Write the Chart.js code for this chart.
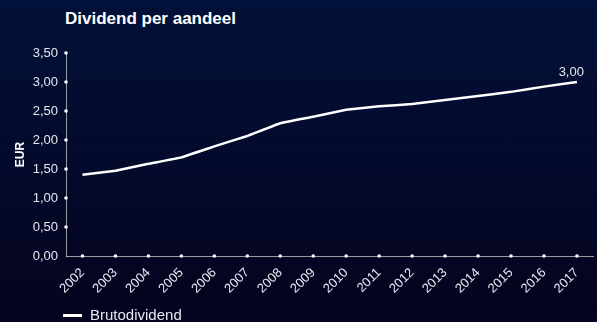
<!DOCTYPE html>
<html>
<head>
<meta charset="utf-8">
<script src="https://cdn.jsdelivr.net/npm/chart.js@4"></script>
<style>
  html, body { margin: 0; padding: 0; }
  body {
    width: 597px; height: 322px; overflow: hidden; position: relative;
    background: linear-gradient(#021139, #05031e);
    font-family: "Liberation Sans", Arial, sans-serif;
  }
  #wrap { position: absolute; left: 0; top: 0; width: 597px; height: 322px; }
  #title {
    position: absolute; left: 65px; top: 9px;
    color: #fff; font-weight: bold; font-size: 17px;
  }
  #legend {
    position: absolute; left: 63px; top: 306px;
    color: #e6e8f0; font-size: 15px; line-height: 18px;
  }
  #legend span.swatch {
    display: inline-block; width: 19px; height: 3px; background: #fff;
    vertical-align: middle; margin-right: 8px; position: relative; top: -1px;
  }
</style>
</head>
<body>
<div id="title">Dividend per aandeel</div>
<div id="wrap"><canvas id="dividend-chart" width="597" height="322"></canvas></div>
<div id="legend"><span class="swatch"></span>Brutodividend</div>
<script>
const years = ['2002','2003','2004','2005','2006','2007','2008','2009','2010','2011','2012','2013','2014','2015','2016','2017'];
const brutoDividend = [1.40,1.47,1.59,1.70,1.89,2.07,2.29,2.40,2.52,2.58,2.62,2.69,2.76,2.83,2.92,3.00];
const yTicks = [0,0.5,1,1.5,2,2.5,3,3.5];

const fmt = v => v.toFixed(2).replace('.', ',');
const fontFamily = '"Liberation Sans", Arial, sans-serif';

// white dots on the dotted axes + value label on the last point
const axisDots = {
    id: 'axisDots',
    afterDraw(chart) {
        const ctx = chart.ctx;
        const x = chart.scales.x, y = chart.scales.y;
        ctx.save();
        ctx.fillStyle = '#ffffff';
        y.ticks.forEach((t, i) => {
            if (t.value === 0) return;
            ctx.beginPath();
            ctx.arc(x.left, y.getPixelForTick(i), 1.8, 0, Math.PI * 2);
            ctx.fill();
        });
        x.ticks.forEach((t, i) => {
            ctx.beginPath();
            ctx.arc(x.getPixelForTick(i), y.bottom, 1.8, 0, Math.PI * 2);
            ctx.fill();
        });
        const meta = chart.getDatasetMeta(0);
        const last = meta.data[meta.data.length - 1];
        ctx.fillStyle = '#e6e8f0';
        ctx.font = '13px ' + fontFamily;
        ctx.textAlign = 'right';
        ctx.textBaseline = 'alphabetic';
        ctx.fillText(fmt(brutoDividend[brutoDividend.length - 1]), last.x + 7, last.y - 6);
        ctx.restore();
    }
};

let dividendChart = new Chart(document.getElementById('dividend-chart').getContext('2d'), {
    type: 'line',
    data: {
        labels: years,
        datasets: [{
            label: 'Brutodividend',
            data: brutoDividend,
            borderColor: '#ffffff',
            borderWidth: 2.5,
            borderJoinStyle: 'round',
            pointRadius: 0,
            tension: 0.06,
            fill: false
        }]
    },
    options: {
        responsive: false,
        animation: false,
        layout: { padding: { top: 53, left: 0, right: 1, bottom: 0 } },
        plugins: {
            legend: { display: false },
            tooltip: { enabled: false }
        },
        scales: {
            x: {
                offset: true,
                afterFit: s => { s.height = 66; },
                grid: { display: false, drawTicks: false },
                border: { color: 'rgba(255,255,255,0.6)', dash: [1, 1], width: 1 },
                ticks: {
                    color: '#e6e8f0',
                    font: { size: 13, family: fontFamily },
                    maxRotation: 45, minRotation: 45, padding: 9, autoSkip: false
                }
            },
            y: {
                min: 0, max: 3.5,
                afterBuildTicks: s => { s.ticks = yTicks.map(v => ({ value: v })); },
                afterFit: s => { s.width = 66; },
                grid: { display: false, drawTicks: false },
                border: { color: 'rgba(255,255,255,0.6)', dash: [1, 1], width: 1 },
                title: {
                    display: true, text: 'EUR', color: '#ffffff',
                    font: { size: 12, weight: 'bold', family: fontFamily },
                    padding: { top: 13, bottom: 0 }
                },
                ticks: {
                    color: '#e6e8f0',
                    font: { size: 13, family: fontFamily },
                    padding: 8,
                    callback: v => fmt(v)
                }
            }
        }
    },
    plugins: [axisDots]
});
</script>
</body>
</html>
